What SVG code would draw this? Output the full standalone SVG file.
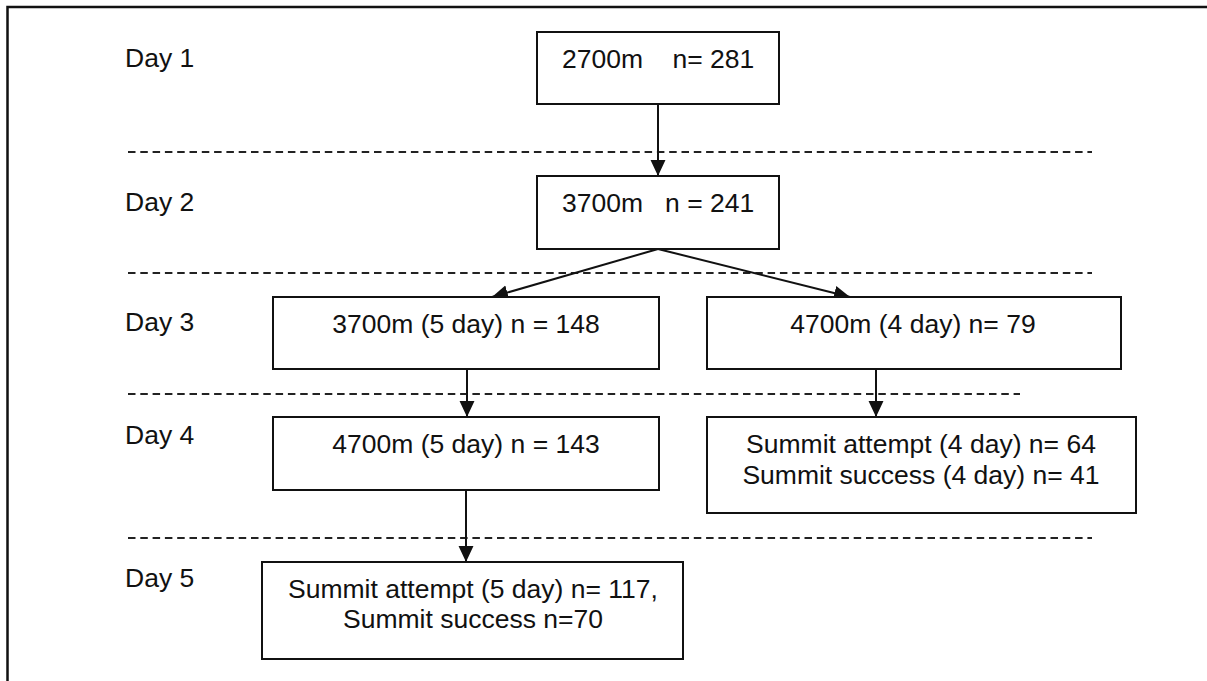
<svg xmlns="http://www.w3.org/2000/svg" width="1207" height="681" viewBox="0 0 1207 681">
<style>
text{font-family:"Liberation Sans",Arial,sans-serif;font-size:26.5px;fill:#111}
.box{fill:#fff;stroke:#111;stroke-width:2}
.dash{stroke:#222;stroke-width:2;stroke-dasharray:7.5 4.8;fill:none}
.conn{stroke:#111;stroke-width:2;fill:none;marker-end:url(#ah)}
.c{text-anchor:middle}
</style>
<defs>
<marker id="ah" markerWidth="16" markerHeight="16" viewBox="0 0 15 14" refX="15" refY="7" orient="auto" markerUnits="userSpaceOnUse">
<path d="M0,0 L15,7 L0,14 Z" fill="#111"/>
</marker>
</defs>
<rect width="1207" height="681" fill="#fff"/>
<path d="M7.5,681 V7 H1207" fill="none" stroke="#111" stroke-width="2.5"/>
<g id="dividers">
<line class="dash" x1="128" y1="152" x2="1092" y2="152"/>
<line class="dash" x1="128" y1="273" x2="1092" y2="273"/>
<line class="dash" x1="128" y1="394" x2="1020" y2="394"/>
<line class="dash" x1="128" y1="538" x2="1092" y2="538"/>
</g>
<g id="day-labels">
<text x="125" y="67">Day 1</text>
<text x="125" y="211">Day 2</text>
<text x="125" y="331">Day 3</text>
<text x="125" y="444">Day 4</text>
<text x="125" y="587">Day 5</text>
</g>
<g id="connectors">
<line class="conn" x1="658" y1="104" x2="658" y2="176"/>
<line class="conn" x1="658" y1="249" x2="492" y2="297"/>
<line class="conn" x1="658" y1="249" x2="850" y2="297"/>
<line class="conn" x1="467" y1="369" x2="467" y2="417"/>
<line class="conn" x1="876" y1="369" x2="876" y2="417"/>
<line class="conn" x1="466" y1="490" x2="466" y2="562"/>
</g>
<g id="n1">
<rect class="box" x="537" y="32" width="242" height="72"/>
<text x="562" y="68" xml:space="preserve">2700m    n= 281</text>
</g>
<g id="n2">
<rect class="box" x="537" y="176" width="242" height="73"/>
<text x="562" y="212" xml:space="preserve">3700m   n = 241</text>
</g>
<g id="n3a">
<rect class="box" x="273" y="297" width="386" height="72"/>
<text class="c" x="466" y="333">3700m (5 day) n = 148</text>
</g>
<g id="n3b">
<rect class="box" x="707" y="297" width="414" height="72"/>
<text class="c" x="913" y="333">4700m (4 day) n= 79</text>
</g>
<g id="n4a">
<rect class="box" x="273" y="417" width="386" height="73"/>
<text class="c" x="466" y="453">4700m (5 day) n = 143</text>
</g>
<g id="n4b">
<rect class="box" x="707" y="417" width="429" height="96"/>
<text class="c" x="921" y="453">Summit attempt (4 day) n= 64</text>
<text class="c" x="921" y="484">Summit success (4 day) n= 41</text>
</g>
<g id="n5">
<rect class="box" x="262" y="562" width="421" height="97"/>
<text class="c" x="473" y="598">Summit attempt (5 day) n= 117,</text>
<text class="c" x="473" y="628">Summit success n=70</text>
</g>
</svg>
